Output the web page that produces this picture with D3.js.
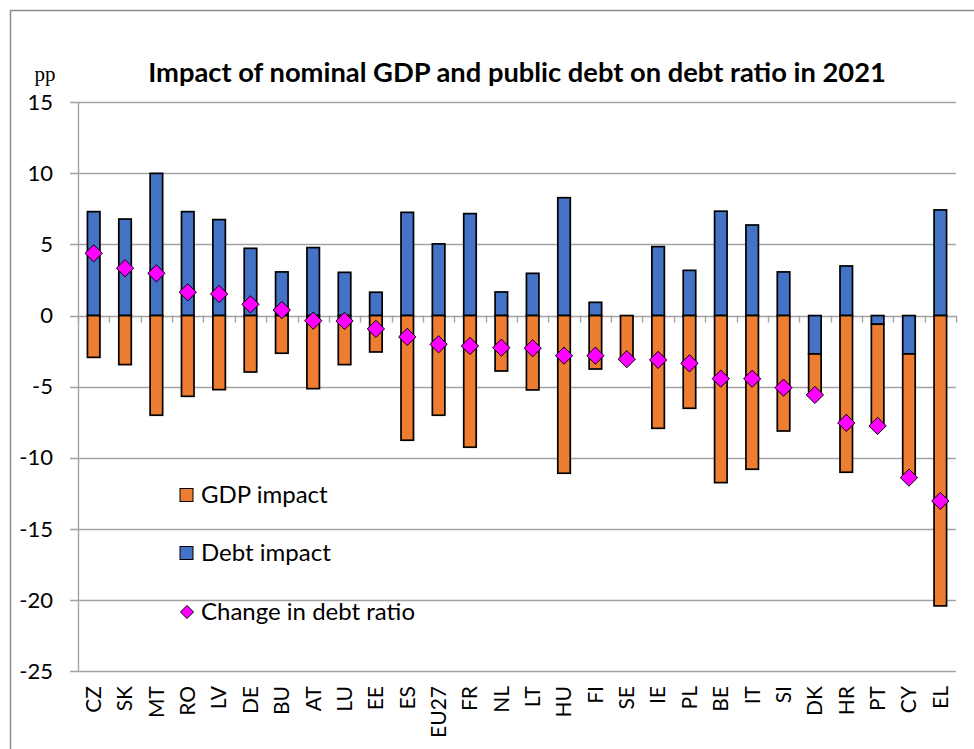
<!DOCTYPE html>
<html>
<head>
<meta charset="utf-8">
<script src="https://cdn.jsdelivr.net/npm/d3@7"></script>
<style>
  html, body { margin: 0; padding: 0; background: #fff; }
  svg { display: block; }
</style>
</head>
<body>
<script>
const categories = ["CZ","SK","MT","RO","LV","DE","BU","AT","LU","EE","ES","EU27","FR","NL","LT","HU","FI","SE","IE","PL","BE","IT","SI","DK","HR","PT","CY","EL"];
const debtImpact = [7.31, 6.79, 10.0, 7.31, 6.75, 4.73, 3.07, 4.78, 3.04, 1.64, 7.26, 5.04, 7.17, 1.66, 2.97, 8.29, 0.93, 0.0, 4.85, 3.18, 7.34, 6.37, 3.07, -2.70, 3.49, -0.61, -2.70, 7.43];
const gdpImpact = [-2.94, -3.45, -7.01, -5.68, -5.21, -3.97, -2.65, -5.14, -3.45, -2.56, -8.77, -7.01, -9.26, -3.90, -5.23, -11.09, -3.76, -3.07, -7.93, -6.52, -11.75, -10.81, -8.12, -2.88, -11.02, -7.15, -8.70, -20.42];
const changeDebt = [4.38, 3.33, 2.97, 1.64, 1.52, 0.79, 0.39, -0.36, -0.38, -0.94, -1.50, -2.02, -2.14, -2.26, -2.30, -2.82, -2.82, -3.07, -3.12, -3.36, -4.44, -4.44, -5.07, -5.58, -7.55, -7.76, -11.40, -13.04];
const yTicks = [15, 10, 5, 0, -5, -10, -15, -20, -25];
const seriesNames = ["GDP impact", "Debt impact", "Change in debt ratio"];
const titleText = "Impact of nominal GDP and public debt on debt ratio in 2021";

const W = 974, H = 749;
const colors = { debt: "#4472C4", gdp: "#ED7D31", change: "#FF00FF" };
const gridColor = "#a3a3a3";
const font = "Lato, 'Open Sans', sans-serif";

const svg = d3.select("body").append("svg").attr("width", W).attr("height", H);

// outer frame
svg.append("path")
  .attr("d", `M10.5,${H} L10.5,10.5 L${W},10.5`)
  .attr("fill", "none").attr("stroke", "#8c8c8c").attr("stroke-width", 1.5);

const plot = { left: 78, right: 956, top: 102.3, bottom: 671 };

const x = d3.scaleBand().domain(categories).range([plot.left, plot.right]).padding(0);
const y = d3.scaleLinear().domain([-25, 15]).range([plot.bottom, plot.top]);

// gridlines + y ticks
svg.append("g").selectAll("line").data(yTicks).join("line")
  .attr("x1", plot.left - 8).attr("x2", plot.right)
  .attr("y1", d => Math.round(y(d)) + 0.5).attr("y2", d => Math.round(y(d)) + 0.5)
  .attr("stroke", gridColor).attr("stroke-width", 1.4);

// y axis line
svg.append("line")
  .attr("x1", plot.left + 0.5).attr("x2", plot.left + 0.5)
  .attr("y1", y(15)).attr("y2", y(-25))
  .attr("stroke", gridColor).attr("stroke-width", 1.4);

// y tick labels
svg.append("g").selectAll("text").data(yTicks).join("text")
  .attr("x", 53).attr("y", d => y(d)).attr("dy", "0.35em")
  .attr("text-anchor", "end")
  .attr("font-family", font).attr("font-size", 22).attr("fill", "#000")
  .text(d => d);

// pp unit
svg.append("text").attr("x", 45).attr("y", 81).attr("text-anchor", "middle")
  .attr("font-family", "'Liberation Serif', 'DejaVu Serif', serif").attr("font-size", 21)
  .text("pp");

// title (sized to match the reference width)
const title = svg.append("text").attr("x", 517).attr("y", 82).attr("text-anchor", "middle")
  .attr("font-family", font).attr("font-weight", "bold").attr("font-size", 24)
  .text(titleText);
const tw = title.node().getComputedTextLength();
if (tw > 0) title.attr("font-size", 24 * 738 / tw);

// x-axis tick marks at category boundaries (at zero line)
const boundaries = categories.map(c => x(c)).concat([plot.right]);
svg.append("g").selectAll("line").data(boundaries).join("line")
  .attr("x1", d => Math.round(d) + 0.5).attr("x2", d => Math.round(d) + 0.5)
  .attr("y1", y(0)).attr("y2", y(0) + 7)
  .attr("stroke", gridColor).attr("stroke-width", 1.4);

// stacked bars
const rows = categories.map((c, i) => ({ cat: c, debt: debtImpact[i], gdp: gdpImpact[i] }));
const stack = d3.stack().keys(["debt", "gdp"]).offset(d3.stackOffsetDiverging);
const stacked = stack(rows);
const barW = 12.5;

svg.append("g").selectAll("g").data(stacked).join("g")
  .attr("fill", d => colors[d.key])
  .selectAll("rect").data(d => d.filter(s => s[1] - s[0] !== 0)).join("rect")
  .attr("x", d => x(d.data.cat) + x.bandwidth() / 2 - barW / 2)
  .attr("width", barW)
  .attr("y", d => y(Math.max(d[0], d[1])))
  .attr("height", d => Math.abs(y(d[0]) - y(d[1])))
  .attr("stroke", "#000").attr("stroke-width", 1.7);

// diamonds
const diamond = d3.symbol().type(d3.symbolDiamond2).size(190);
svg.append("g").selectAll("path").data(categories).join("path")
  .attr("transform", (c, i) => `translate(${x(c) + x.bandwidth() / 2},${y(changeDebt[i])})`)
  .attr("d", diamond)
  .attr("fill", colors.change).attr("stroke", "#000").attr("stroke-width", 1);

// x labels
svg.append("g").selectAll("text").data(categories).join("text")
  .attr("transform", c => `translate(${x(c) + x.bandwidth() / 2},${686}) rotate(-90)`)
  .attr("text-anchor", "end").attr("dy", "0.35em")
  .attr("font-family", font).attr("font-size", 21).attr("fill", "#000")
  .text(c => c);

// legend
const legendY = [495, 553, 612];
const lg = svg.append("g");
lg.append("rect").attr("x", 180).attr("y", legendY[0] - 6.5).attr("width", 13).attr("height", 13)
  .attr("fill", colors.gdp).attr("stroke", "#000").attr("stroke-width", 1);
lg.append("rect").attr("x", 180).attr("y", legendY[1] - 6.5).attr("width", 13).attr("height", 13)
  .attr("fill", colors.debt).attr("stroke", "#000").attr("stroke-width", 1);
lg.append("path").attr("transform", `translate(187,${legendY[2]})`)
  .attr("d", d3.symbol().type(d3.symbolDiamond2).size(110))
  .attr("fill", colors.change).attr("stroke", "#000").attr("stroke-width", 1);
lg.selectAll("text").data(seriesNames).join("text")
  .attr("x", 201).attr("y", (d, i) => legendY[i]).attr("dy", "0.35em")
  .attr("font-family", font).attr("font-size", 24).attr("fill", "#000")
  .text(d => d);
</script>
</body>
</html>
